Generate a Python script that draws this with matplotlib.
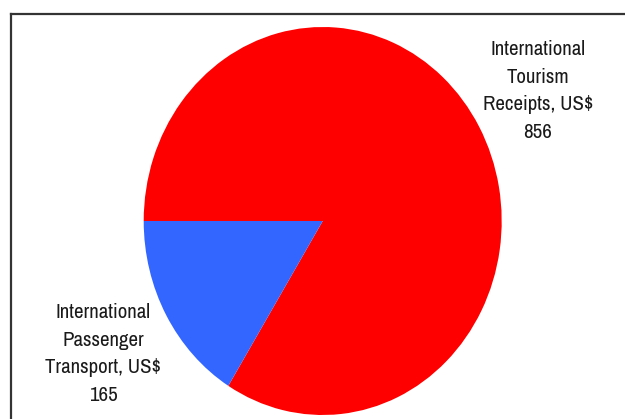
import matplotlib.pyplot as plt
from matplotlib.lines import Line2D

# revenue split, US$ billions
names = ['International\nTourism\nReceipts, US$', 'International\nPassenger\nTransport, US$']
values = [856, 165]
colors = ['#FF0000', '#3366FF']

plt.rcParams['font.family'] = ['Archivo Narrow', 'Roboto Condensed', 'DejaVu Sans']

W, H = 625, 419
fig = plt.figure(figsize=(W / 100, H / 100), dpi=100)
fig.patch.set_facecolor('white')

# pie is stretched a bit vertically, so keep the axes box non-square
ax = fig.add_axes([143.7 / W, 4 / H, 358 / W, 388 / H])
ax.pie(values, colors=colors, startangle=180, counterclock=False,
       radius=1, wedgeprops=dict(linewidth=0))
ax.set_aspect('auto')
ax.set_xlim(-1, 1)
ax.set_ylim(-1, 1)
ax.axis('off')

txt = dict(ha='center', va='center', fontsize=15, color='#1a1a1a', linespacing=1.57)
fig.text(538 / W, 1 - 91 / H, f'{names[0]}\n{values[0]}', **txt)
fig.text(103 / W, 1 - 354 / H, f'{names[1]}\n{values[1]}', **txt)

# chart border (only the top and left edges are in view)
fig.add_artist(Line2D([11 / W, 11 / W], [0, 1 - 14 / H], color='#333333', lw=1.6))
fig.add_artist(Line2D([11 / W, 1], [1 - 14 / H, 1 - 14 / H], color='#333333', lw=1.6))

fig.savefig('out.png', dpi=100)
